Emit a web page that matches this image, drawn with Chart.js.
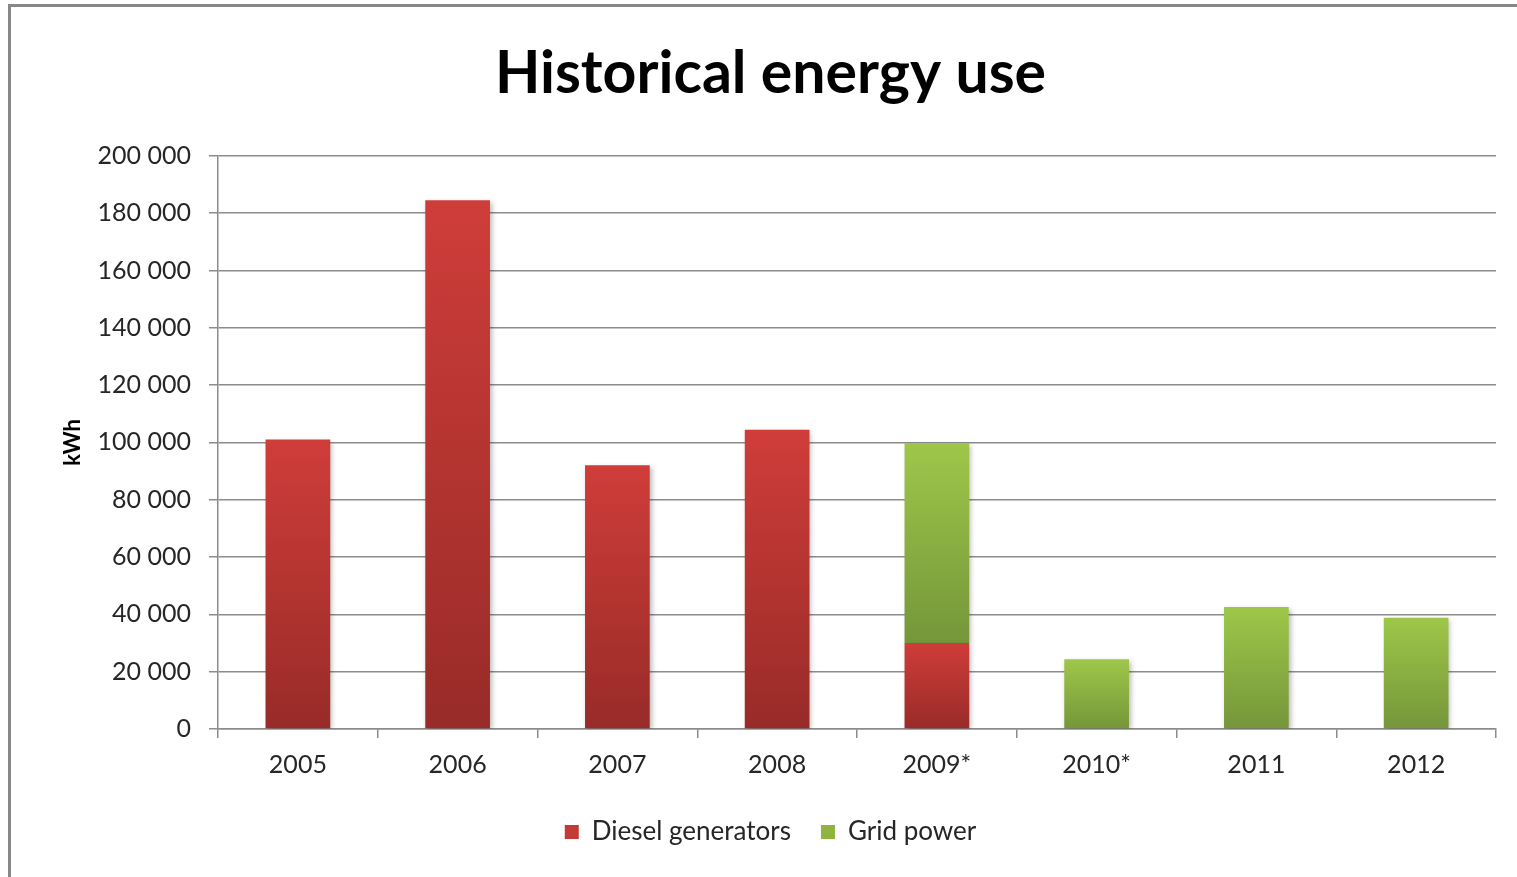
<!DOCTYPE html>
<html>
<head>
<meta charset="utf-8">
<script src="https://cdn.jsdelivr.net/npm/chart.js@4.4.1/dist/chart.umd.min.js"></script>
<style>
  html, body { margin: 0; padding: 0; background: #fff; overflow: hidden; }
  #frame { position: absolute; left: 8px; top: 4px; width: 1700px; height: 1000px; border: 3px solid #888; box-sizing: border-box; }
  #wrap { position: absolute; left: 0; top: 0; width: 1517px; height: 877px; }
</style>
</head>
<body>
<div id="frame"></div>
<div id="wrap"><canvas id="chart" width="1517" height="877"></canvas></div>
<script>
// Annual energy use, kWh
const categories = ['2005', '2006', '2007', '2008', '2009*', '2010*', '2011', '2012'];
const dieselKWh = [101000, 184500, 92000, 104400, 30000, null, null, null];
const gridKWh = [null, null, null, null, 69800, 24300, 42600, 38800];
const yTickValues = [0, 20000, 40000, 60000, 80000, 100000, 120000, 140000, 160000, 180000, 200000];

const FONT = 'Lato, "Open Sans", sans-serif';
const TEXT = '#262626';
const GRID = '#8c8c8c';

// vertical gradient spanning each individual bar (light at top, dark at base)
function barFill(light, dark, baseOf) {
  return (ctx) => {
    const chart = ctx.chart;
    if (ctx.type !== 'data' || !chart.chartArea || !chart.scales.y) return light;
    const v = ctx.raw;
    if (v == null) return light;
    const base = baseOf(ctx.dataIndex);
    const y = chart.scales.y;
    const top = y.getPixelForValue(base + v);
    const bottom = y.getPixelForValue(base);
    const g = chart.ctx.createLinearGradient(0, top, 0, bottom);
    g.addColorStop(0, light);
    g.addColorStop(1, dark);
    return g;
  };
}

// soft drop shadow under the bars
const barShadow = {
  id: 'barShadow',
  beforeDatasetsDraw(chart) {
    const c = chart.ctx;
    c.save();
    c.shadowColor = 'rgba(0,0,0,0.28)';
    c.shadowBlur = 5;
    c.shadowOffsetX = 2;
    c.shadowOffsetY = 2;
  },
  afterDatasetsDraw(chart) {
    chart.ctx.restore();
  }
};

const formatThousands = (v) => String(v).replace(/\B(?=(\d{3})+(?!\d))/g, ' ');

new Chart(document.getElementById('chart'), {
  type: 'bar',
  data: {
    labels: categories,
    datasets: [
      {
        label: 'Diesel generators',
        data: dieselKWh,
        backgroundColor: barFill('#cf3d39', '#982b28', () => 0),
        borderWidth: 0,
        categoryPercentage: 1,
        barPercentage: 0.405
      },
      {
        label: 'Grid power',
        data: gridKWh,
        backgroundColor: barFill('#9ec749', '#75963a', (i) => dieselKWh[i] || 0),
        borderWidth: 0,
        categoryPercentage: 1,
        barPercentage: 0.405
      }
    ]
  },
  plugins: [barShadow],
  options: {
    responsive: false,
    animation: false,
    events: [],
    layout: { padding: { left: 45, right: 21, top: 0, bottom: 22 } },
    plugins: {
      tooltip: { enabled: false },
      title: {
        display: true,
        text: 'Historical energy use',
        color: '#000',
        font: { family: FONT, size: 59, weight: 'bold' },
        padding: { top: 39, bottom: 46 }
      },
      legend: {
        position: 'bottom',
        labels: {
          color: TEXT,
          font: { family: FONT, size: 26 },
          boxWidth: 14,
          boxHeight: 14,
          padding: 30,
          generateLabels(chart) {
            const cols = ['#c43a36', '#8fb540'];
            return chart.data.datasets.map((d, i) => ({
              text: d.label, fillStyle: cols[i], strokeStyle: cols[i], lineWidth: 0,
              fontColor: TEXT, datasetIndex: i, hidden: false
            }));
          }
        }
      }
    },
    scales: {
      x: {
        stacked: true,
        grid: { drawOnChartArea: false, drawTicks: true, tickLength: 9, color: GRID, lineWidth: 1.5 },
        border: { display: true, color: GRID, width: 1.5 },
        ticks: { color: TEXT, font: { family: FONT, size: 25 }, padding: 12, maxRotation: 0 },
        afterFit(scale) { scale.height = 60; }
      },
      y: {
        stacked: true,
        min: 0,
        max: 200000,
        afterBuildTicks(scale) { scale.ticks = yTickValues.map(v => ({ value: v })); },
        grid: { color: GRID, lineWidth: 1.5, tickLength: 9, drawTicks: true },
        border: { display: true, color: GRID, width: 1.5 },
        ticks: {
          color: TEXT,
          font: { family: FONT, size: 25 },
          padding: 18,
          callback: (v) => formatThousands(v)
        },
        title: {
          display: true,
          text: 'kWh',
          color: '#000',
          font: { family: FONT, size: 22, weight: 'bold' },
          padding: { top: 15, bottom: 0 }
        },
        afterFit(scale) { scale.width = 173; }
      }
    }
  }
});
</script>
</body>
</html>
